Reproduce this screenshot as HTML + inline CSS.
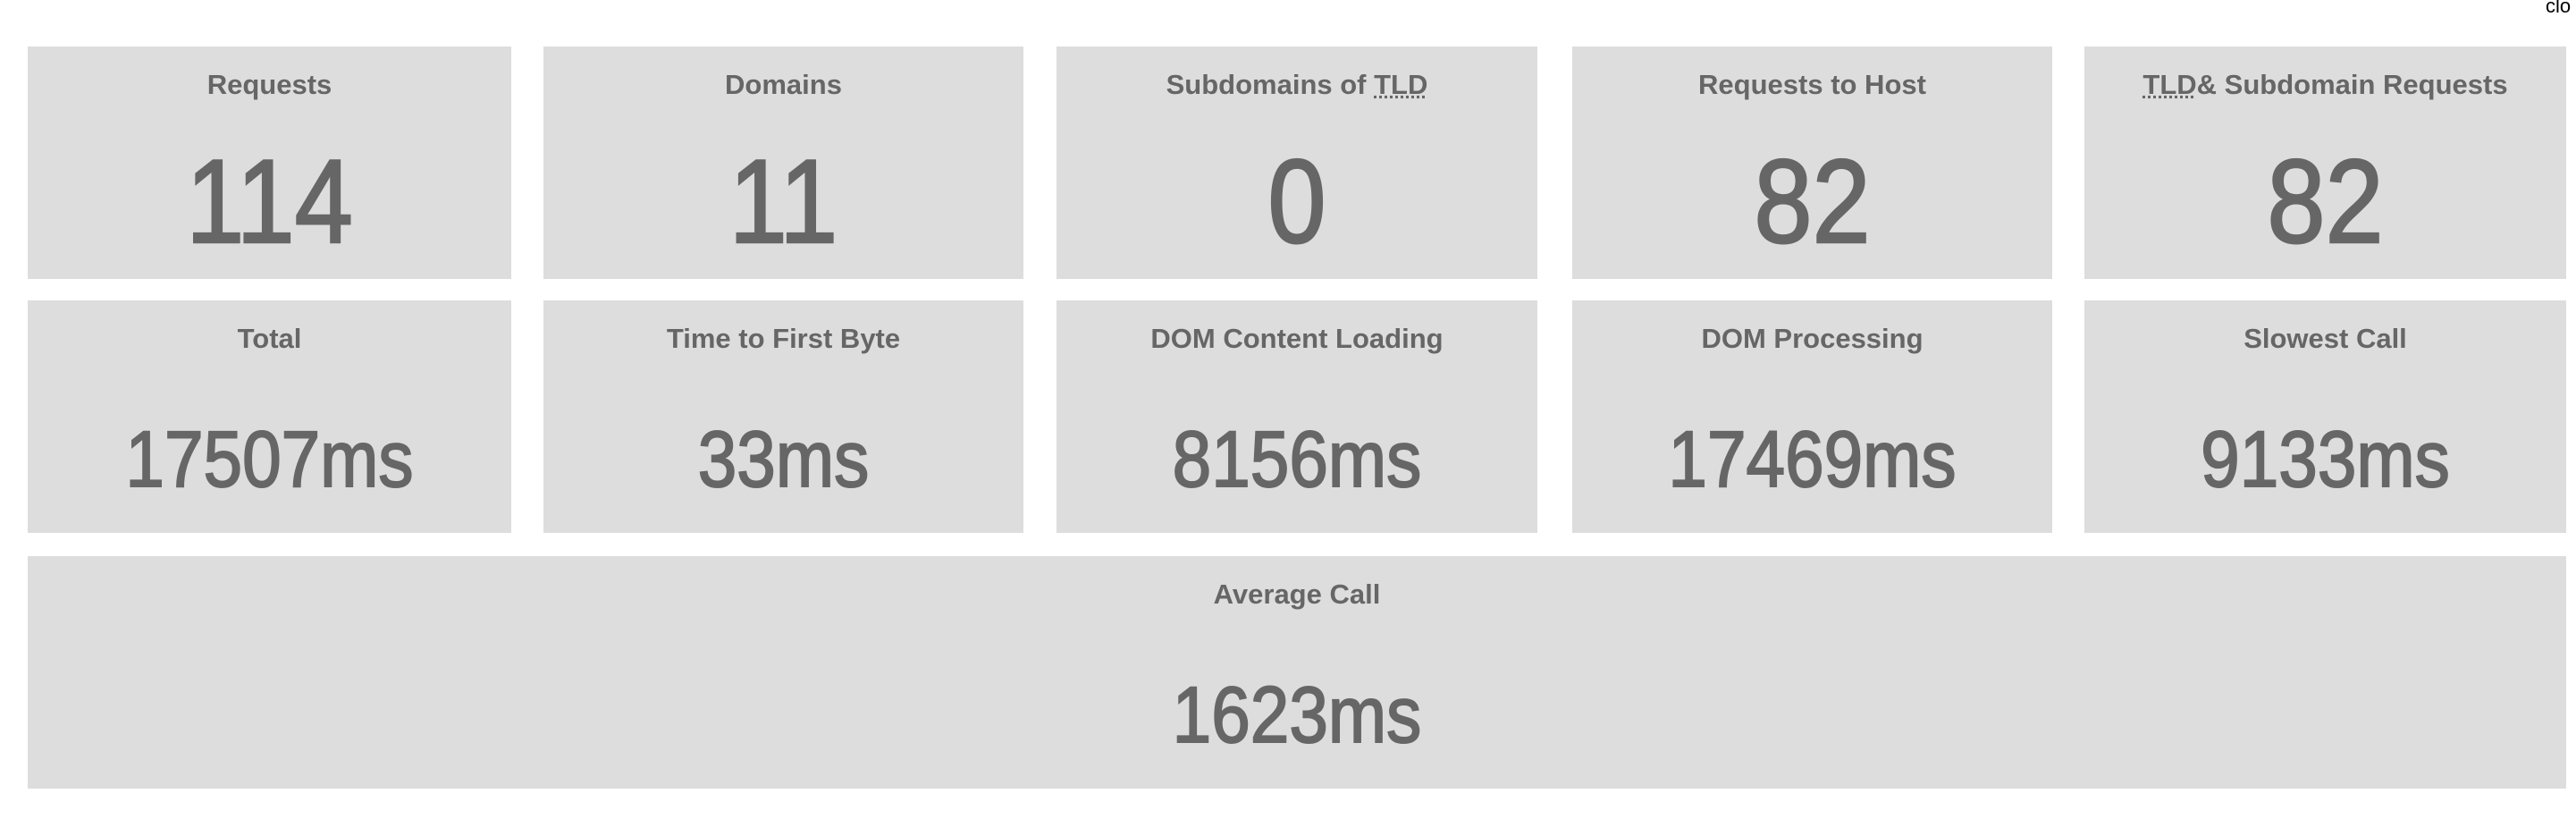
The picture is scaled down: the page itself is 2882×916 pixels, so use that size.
<!DOCTYPE html>
<html><head><meta charset="utf-8"><style>
html,body{margin:0;padding:0;background:#fff;width:2882px;height:916px;overflow:hidden;font-family:"Liberation Sans",sans-serif;}
.card{position:absolute;background:#dddddd;color:#666;text-align:center;height:260px;}
.t{position:absolute;left:0;right:0;top:27px;font-size:31px;font-weight:bold;line-height:1;}
.v{position:absolute;left:0;right:0;line-height:1;transform:scaleX(0.88);font-weight:normal;-webkit-text-stroke:2.5px #666;}
.r1 .v{top:108px;font-size:133px;}
.r2 .v{top:133px;font-size:89px;-webkit-text-stroke:2px #666;}
abbr{text-decoration:underline dotted;}
#clo{position:absolute;left:2848px;top:-6px;font-size:22px;color:#000;}
</style></head><body>
<div id="clo">clo</div>
<div class="card r1" style="left:31px;top:52px;width:541px"><div class="t">Requests</div><div class="v">114</div></div>
<div class="card r1" style="left:608px;top:52px;width:537px"><div class="t">Domains</div><div class="v">11</div></div>
<div class="card r1" style="left:1182px;top:52px;width:538px"><div class="t">Subdomains of <abbr>TLD</abbr></div><div class="v">0</div></div>
<div class="card r1" style="left:1759px;top:52px;width:537px"><div class="t">Requests to Host</div><div class="v">82</div></div>
<div class="card r1" style="left:2332px;top:52px;width:539px"><div class="t"><abbr>TLD</abbr>&amp; Subdomain Requests</div><div class="v">82</div></div>
<div class="card r2" style="left:31px;top:336px;width:541px"><div class="t">Total</div><div class="v">17507ms</div></div>
<div class="card r2" style="left:608px;top:336px;width:537px"><div class="t">Time to First Byte</div><div class="v">33ms</div></div>
<div class="card r2" style="left:1182px;top:336px;width:538px"><div class="t">DOM Content Loading</div><div class="v">8156ms</div></div>
<div class="card r2" style="left:1759px;top:336px;width:537px"><div class="t">DOM Processing</div><div class="v">17469ms</div></div>
<div class="card r2" style="left:2332px;top:336px;width:539px"><div class="t">Slowest Call</div><div class="v">9133ms</div></div>
<div class="card r2" style="left:31px;top:622px;width:2840px"><div class="t">Average Call</div><div class="v">1623ms</div></div>
</body></html>
